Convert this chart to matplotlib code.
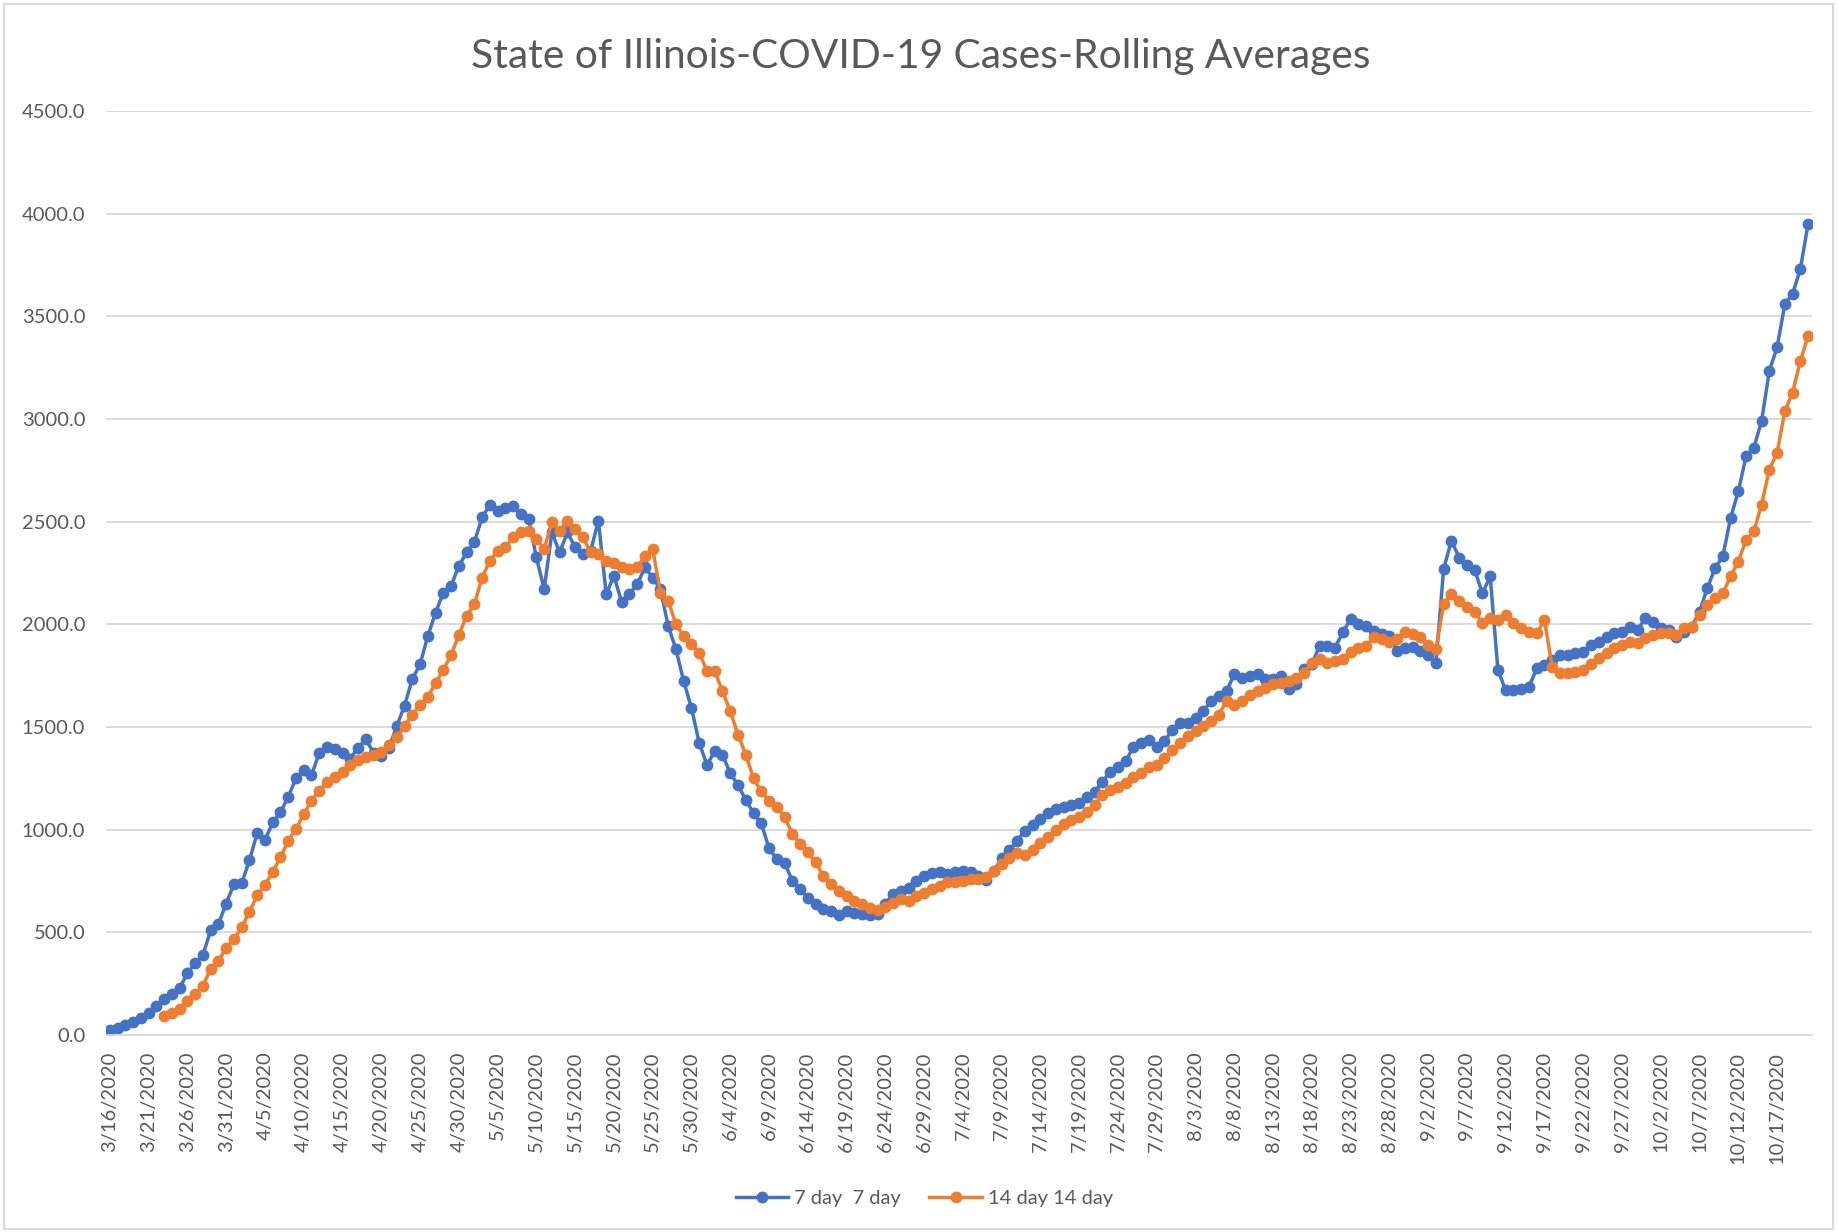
import numpy as np
import pandas as pd
import matplotlib
matplotlib.use("Agg")
import matplotlib.pyplot as plt
from matplotlib.patches import Rectangle

# daily rolling averages, 3/16/2020 .. 10/21/2020
start_date = "2020-03-16"
n_days = 220

avg_7day = [25, 35, 50, 65, 85, 105, 140, 175, 200, 230,
            300, 350, 390, 510, 540, 640, 735, 740, 850, 985,
            950, 1035, 1085, 1160, 1250, 1290, 1265, 1375, 1405, 1395,
            1375, 1345, 1400, 1440, 1375, 1360, 1400, 1505, 1604, 1734,
            1805, 1943, 2057, 2155, 2187, 2285, 2350, 2400, 2521, 2581,
            2554, 2565, 2578, 2537, 2513, 2326, 2171, 2448, 2350, 2448,
            2375, 2342, 2358, 2505, 2147, 2236, 2109, 2147, 2195, 2277,
            2228, 2171, 1992, 1878, 1723, 1593, 1422, 1316, 1381, 1365,
            1275, 1218, 1145, 1080, 1031, 910, 857, 840, 751, 710,
            669, 636, 615, 603, 585, 603, 595, 590, 585, 590,
            640, 685, 702, 718, 750, 775, 790, 792, 785, 792,
            800, 792, 775, 755, 800, 860, 900, 945, 995, 1021,
            1054, 1079, 1103, 1111, 1120, 1130, 1160, 1185, 1234, 1283,
            1307, 1332, 1405, 1422, 1438, 1405, 1430, 1487, 1520, 1520,
            1544, 1577, 1626, 1650, 1675, 1757, 1740, 1748, 1757, 1732,
            1735, 1748, 1683, 1708, 1781, 1806, 1895, 1895, 1887, 1961,
            2026, 2002, 1993, 1969, 1953, 1944, 1871, 1887, 1890, 1871,
            1850, 1810, 2271, 2407, 2325, 2290, 2265, 2151, 2233, 1777,
            1679, 1679, 1687, 1695, 1785, 1801, 1826, 1850, 1850, 1858,
            1866, 1899, 1915, 1940, 1956, 1964, 1989, 1972, 2029, 2013,
            1980, 1972, 1940, 1964, 1989, 2062, 2176, 2274, 2331, 2518,
            2648, 2819, 2860, 2990, 3235, 3349, 3560, 3609, 3731, 3951]

# 14 day series starts on 3/23 (day 7)
start_14day = 7
avg_14day = [94, 105, 125,
             165, 200, 240, 320, 360, 425, 468, 524, 600, 680,
             730, 795, 865, 946, 1003, 1076, 1141, 1190, 1231, 1255,
             1280, 1315, 1340, 1352, 1365, 1380, 1410, 1450, 1505, 1560,
             1605, 1645, 1715, 1778, 1850, 1948, 2041, 2098, 2228, 2309,
             2358, 2375, 2423, 2448, 2456, 2415, 2366, 2497, 2456, 2505,
             2464, 2423, 2350, 2342, 2309, 2301, 2277, 2269, 2277, 2334,
             2366, 2155, 2114, 2000, 1943, 1902, 1862, 1772, 1772, 1674,
             1577, 1463, 1365, 1251, 1186, 1140, 1111, 1062, 980, 931,
             890, 841, 775, 734, 702, 677, 652, 636, 620, 611,
             625, 644, 661, 652, 677, 693, 710, 726, 743, 743,
             751, 759, 759, 770, 800, 835, 860, 885, 875, 900,
             935, 965, 1000, 1030, 1045, 1060, 1085, 1120, 1170, 1193,
             1209, 1225, 1258, 1275, 1307, 1315, 1348, 1389, 1422, 1454,
             1479, 1503, 1528, 1560, 1626, 1609, 1626, 1658, 1675, 1691,
             1708, 1715, 1724, 1740, 1765, 1814, 1830, 1814, 1822, 1830,
             1863, 1887, 1895, 1936, 1928, 1912, 1928, 1961, 1953, 1936,
             1900, 1878, 2098, 2150, 2115, 2085, 2062, 2005, 2029, 2021,
             2046, 2005, 1980, 1964, 1956, 2021, 1793, 1761, 1761, 1769,
             1777, 1809, 1834, 1858, 1883, 1899, 1915, 1907, 1932, 1948,
             1956, 1956, 1948, 1980, 1989, 2046, 2094, 2127, 2151, 2233,
             2306, 2412, 2453, 2583, 2754, 2835, 3039, 3129, 3283, 3405]

y_ticks = [0, 500, 1000, 1500, 2000, 2500, 3000, 3500, 4000, 4500]

dates = pd.date_range(start_date, periods=n_days)
date_labels = [f"{d.month}/{d.day}/{d.year}" for d in dates]

plt.rcParams["font.family"] = ["Lato", "DejaVu Sans"]
grey = "#595959"
blue = "#4472C4"
orange = "#ED7D31"

fig = plt.figure(figsize=(18.38, 12.32), dpi=100)
ax = fig.add_axes([106 / 1838, 1 - 1035 / 1232, 1706 / 1838, 924 / 1232])

x7 = np.arange(len(avg_7day))
x14 = np.arange(start_14day, start_14day + len(avg_14day))
ax.plot(x7, avg_7day, color=blue, lw=2.5, marker="o", ms=7.5, label="7 day  7 day")
ax.plot(x14, avg_14day, color=orange, lw=2.5, marker="o", ms=7.5, label="14 day 14 day")

ax.set_xlim(-0.5, n_days - 0.5)
ax.set_ylim(0, 4500)
ax.set_yticks(y_ticks)
ax.set_yticklabels([f"{v:.1f}" for v in y_ticks])
ax.set_xticks(x7[::5])
ax.set_xticklabels(date_labels[::5], rotation=90, va="top", ha="center")
ax.tick_params(axis="y", length=0, pad=15, labelsize=14.5, labelcolor=grey)
ax.tick_params(axis="x", length=0, pad=12, labelsize=14.5, labelcolor=grey)

ax.yaxis.grid(True, color="#D9D9D9", lw=1.3)
ax.set_axisbelow(True)
for s in ["top", "right", "left"]:
    ax.spines[s].set_visible(False)
ax.spines["bottom"].set_color("#D9D9D9")
ax.spines["bottom"].set_linewidth(1.3)

fig.text(0.5008, 1 - 68 / 1232, "State of Illinois-COVID-19 Cases-Rolling Averages",
         ha="center", va="baseline", fontsize=29.3, color=grey)

fig.legend(loc="center", bbox_to_anchor=(0.503, 1 - 1198 / 1232), ncol=2,
           frameon=False, fontsize=14.5, labelcolor=grey, handlelength=2.6,
           handletextpad=0.3, columnspacing=1.4)

# outer chart border
fig.add_artist(Rectangle((4 / 1838, 3 / 1232), 1829 / 1838, 1225 / 1232,
                         transform=fig.transFigure, fill=False,
                         edgecolor="#D9D9D9", lw=1.5))

fig.savefig("out.png", dpi=100)
